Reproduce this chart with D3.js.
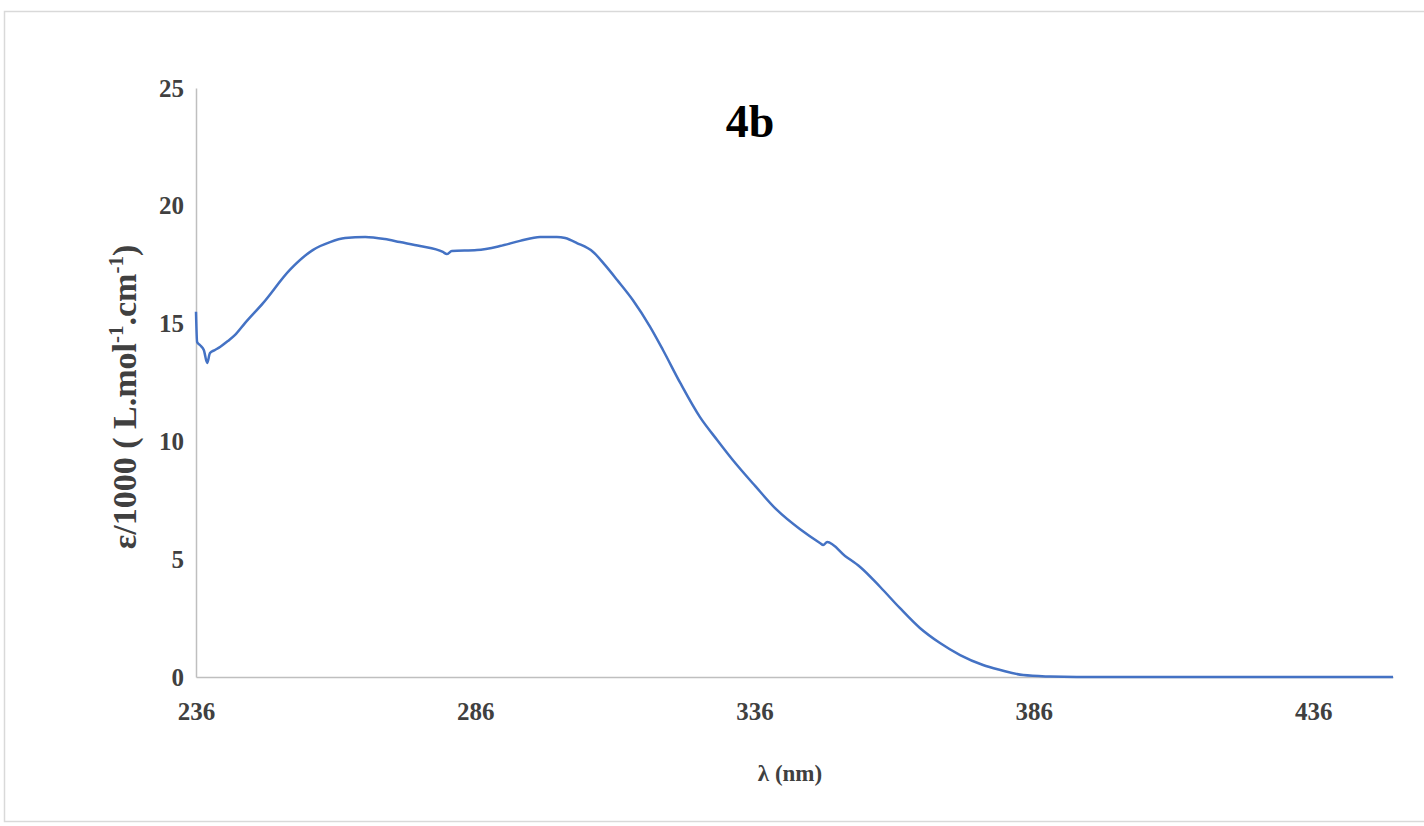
<!DOCTYPE html>
<html>
<head>
<meta charset="utf-8">
<script src="https://cdn.jsdelivr.net/npm/d3@7"></script>
<style>
	body { margin: 0; background: #fff; }
	text { font-family: "Liberation Serif", "Times New Roman", serif; font-weight: bold; fill: #404040; }
</style>
</head>
<body>
<svg id="chart" width="1424" height="826"></svg>
<script>
"use strict";

//
//	Spectrum values (nm, epsilon/1000)
//
var wavelength = [236.0, 236.2, 236.7, 237.4, 238.0, 238.5, 239.4, 240.3, 241.7, 243.0,
	244.8, 248.0, 252.8, 256.9, 260.0, 262.7, 266.3, 269.8, 272.5, 276.1,
	280.2, 280.9, 281.8, 286.3, 290.4, 294.0, 297.6, 300.6, 302.1, 304.2,
	307.1, 309.2, 311.4, 314.2, 317.3, 319.6, 322.7, 326.2, 329.3, 332.1,
	336.1, 340.0, 344.1, 347.7, 348.3, 349.0, 352.2, 354.9, 358.5, 362.0,
	365.6, 369.2, 372.8, 376.9, 380.0, 384.1, 388.9, 393.7, 420.0, 450.3];
var epsilon = [15.5, 14.22, 14.09, 13.88, 13.33, 13.75, 13.88, 14.01, 14.26, 14.52,
	15.03, 15.87, 17.28, 18.12, 18.46, 18.63, 18.68, 18.59, 18.46, 18.29,
	18.04, 17.95, 18.08, 18.12, 18.29, 18.51, 18.68, 18.68, 18.63, 18.42,
	18.04, 17.49, 16.85, 16.0, 14.86, 13.88, 12.48, 11.04, 10.06, 9.21,
	8.11, 7.09, 6.28, 5.69, 5.60, 5.73, 5.14, 4.67, 3.82, 2.93,
	2.08, 1.44, 0.93, 0.51, 0.30, 0.08, 0.02, 0.0, 0.0, 0.0];

var xTicks = [236, 286, 336, 386, 436];
var yTicks = [0, 5, 10, 15, 20, 25];
var chartTitle = "4b";

var svg = d3.select("#chart");

//	chart frame
svg.append("rect")
	.attr("x", 4.5).attr("y", 11.5)
	.attr("width", 1430).attr("height", 810)
	.attr("fill", "#fff")
	.attr("stroke", "#d9d9d9").attr("stroke-width", 1.5);

var x = d3.scaleLinear().domain([236, 450.3]).range([196, 1393]);
var y = d3.scaleLinear().domain([0, 25]).range([677, 88]);

//
//	Axes, no tick marks, only the lines and labels
//
var xAxis = svg.append("g")
	.attr("transform", "translate(0," + y(0) + ")")
	.call(d3.axisBottom(x).tickValues(xTicks).tickSize(0).tickPadding(25).tickFormat(d3.format("d")));
var yAxis = svg.append("g")
	.attr("transform", "translate(" + x(236) + ",0)")
	.call(d3.axisLeft(y).tickValues(yTicks).tickSize(0).tickPadding(12).tickFormat(d3.format("d")));

[xAxis, yAxis].forEach(function(ax){
	ax.select(".domain").attr("stroke", "#bfbfbf").attr("stroke-width", 1.5);
	ax.selectAll("text").style("font-size", "25px").attr("fill", "#404040")
		.style("font-family", "'Liberation Serif', serif").style("font-weight", "bold");
});

//	spectrum line
var line = d3.line()
	.x(function(d, i){ return x(wavelength[i]); })
	.y(function(d){ return y(d); })
	.curve(d3.curveMonotoneX);

svg.append("path")
	.datum(epsilon)
	.attr("d", line)
	.attr("fill", "none")
	.attr("stroke", "#4472c4")
	.attr("stroke-width", 2.5)
	.attr("stroke-linejoin", "round");

//	title
svg.append("text")
	.attr("x", 750).attr("y", 137)
	.attr("text-anchor", "middle")
	.style("font-size", "46px")
	.style("fill", "#000")
	.text(chartTitle);

//	x axis title
svg.append("text")
	.attr("x", 790).attr("y", 781)
	.attr("text-anchor", "middle")
	.style("font-size", "23px")
	.text("λ (nm)");

//
//	y axis title, with superscripts
//
var yt = svg.append("text")
	.attr("transform", "translate(136,397) rotate(-90)")
	.attr("text-anchor", "middle")
	.style("font-size", "34px");
yt.append("tspan").text("ε/1000 ( L.mol");
yt.append("tspan").attr("dy", -13).style("font-size", "21px").text("-1");
yt.append("tspan").attr("dy", 13).text(".cm");
yt.append("tspan").attr("dy", -13).style("font-size", "21px").text("-1");
yt.append("tspan").attr("dy", 13).text(")");
</script>
</body>
</html>
